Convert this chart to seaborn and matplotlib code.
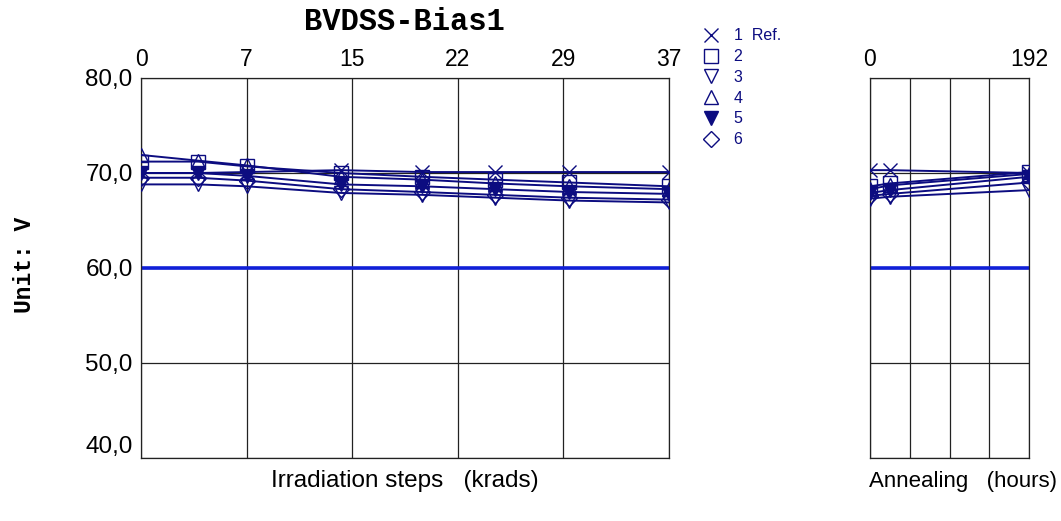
import matplotlib
matplotlib.use("Agg")
import pandas as pd
import matplotlib.pyplot as plt
import seaborn as sns

# irradiation dose steps (krads) and annealing times (hours)
irr_dose = [0, 4, 7.4, 14, 19.7, 24.8, 30, 37]
ann_time = [0, 24, 192]

dose_ticks = [0, 7.4, 14.8, 22.2, 29.6, 37]
dose_labels = ["0", "7", "15", "22", "29", "37"]
ann_ticks = [0, 48, 96, 144, 192]
ann_labels = ["0", "", "", "", "192"]
y_ticks = [40, 50, 60, 70, 80]

samples = ["1  Ref.", "2", "3", "4", "5", "6"]
markers = ["x", "s", "v", "^", "v", "D"]
filled = [False, False, False, False, True, False]

# BVDSS per sample (V) during irradiation
irr_s1 = [70.0, 70.0, 70.1, 70.3, 70.1, 70.1, 70.1, 70.1]
irr_s2 = [71.2, 71.2, 70.7, 70.0, 69.6, 69.3, 69.0, 68.6]
irr_s3 = [68.8, 68.8, 68.6, 67.9, 67.7, 67.4, 67.1, 66.9]
irr_s4 = [71.9, 71.3, 70.8, 69.6, 69.3, 68.9, 68.6, 68.3]
irr_s5 = [70.0, 70.0, 69.7, 68.8, 68.6, 68.3, 68.0, 67.8]
irr_s6 = [69.5, 69.5, 69.2, 68.3, 68.0, 67.7, 67.4, 67.2]

# BVDSS per sample (V) during annealing
ann_s1 = [70.3, 70.3, 70.0]
ann_s2 = [68.6, 68.9, 70.1]
ann_s3 = [67.3, 67.5, 68.2]
ann_s4 = [68.3, 68.7, 69.9]
ann_s5 = [67.9, 68.2, 69.6]
ann_s6 = [67.6, 67.8, 69.0]

limit = 60.0

irr_vals = [irr_s1, irr_s2, irr_s3, irr_s4, irr_s5, irr_s6]
ann_vals = [ann_s1, ann_s2, ann_s3, ann_s4, ann_s5, ann_s6]

navy = "#0c0c80"
sns.set_style("white")
plt.rcParams["font.family"] = ["Liberation Sans", "DejaVu Sans"]
plt.rcParams["text.color"] = "black"
plt.rcParams["xtick.color"] = "black"
plt.rcParams["ytick.color"] = "black"

W, H = 1061, 521
fig = plt.figure(figsize=(W / 100, H / 100), dpi=100)
ax1 = fig.add_axes([141 / W, 1 - 458 / H, 528 / W, 380 / H])
ax2 = fig.add_axes([870 / W, 1 - 458 / H, 159 / W, 380 / H])


def draw_panel(ax, xs, vals):
    for name, mk, fl, ys in zip(samples, markers, filled, vals):
        df = pd.DataFrame({"x": xs, "y": ys})
        sns.lineplot(data=df, x="x", y="y", ax=ax, color=navy, lw=1.4,
                     marker=mk, ms=8 if mk == "D" else 10,
                     mfc=navy if fl else "none", mec=navy, mew=1.0,
                     label=name, legend=False, zorder=3)
    ax.axhline(limit, color="#1020d8", lw=2.6, zorder=2)
    ax.set_ylim(40, 80)
    ax.set_yticks(y_ticks)
    ax.grid(True, color="#222222", lw=0.9, zorder=0)
    ax.xaxis.tick_top()
    ax.tick_params(length=0, labelsize=16.5, pad=5)
    for s in ax.spines.values():
        s.set_color("#222222")
        s.set_linewidth(0.9)
    ax.set_xlabel("")
    ax.set_ylabel("")


draw_panel(ax1, irr_dose, irr_vals)
ax1.set_xlim(0, 37)
ax1.set_xticks(dose_ticks, dose_labels)
ax1.set_yticks(y_ticks, [f"{v:.1f}".replace(".", ",") for v in y_ticks])
ax1.tick_params(axis="y", labelsize=17.5, pad=6)
ax1.get_yticklabels()[0].set_va("bottom")

draw_panel(ax2, ann_time, ann_vals)
ax2.set_xlim(0, 192)
ax2.set_xticks(ann_ticks, ann_labels)
ax2.set_yticklabels([])

handles = [plt.Line2D([], [], ls="none", marker=mk, ms=8 if mk == "D" else 10,
                      mfc=navy if fl else "none", mec=navy, mew=1.0)
           for mk, fl in zip(markers, filled)]
fig.legend(handles, samples, loc="upper left", bbox_to_anchor=(697 / W, 1 - 22 / H),
           frameon=False, fontsize=11.5, labelcolor=navy, handlelength=1.0,
           handletextpad=0.9, labelspacing=0.36, borderaxespad=0)

fig.text(404 / W, 1 - 22 / H, "BVDSS-Bias1", ha="center", va="center",
         family="Liberation Mono", weight="bold", fontsize=22)
fig.text(25 / W, 1 - 265 / H, "Unit: V", ha="center", va="center", rotation=90,
         family="Liberation Mono", weight="bold", fontsize=16.5)
fig.text(405 / W, 1 - 481 / H, "Irradiation steps   (krads)", ha="center", va="center",
         fontsize=17.5)
fig.text(963 / W, 1 - 481 / H, "Annealing   (hours)", ha="center", va="center",
         fontsize=16)

fig.savefig("out.png", dpi=100)
plt.close()
